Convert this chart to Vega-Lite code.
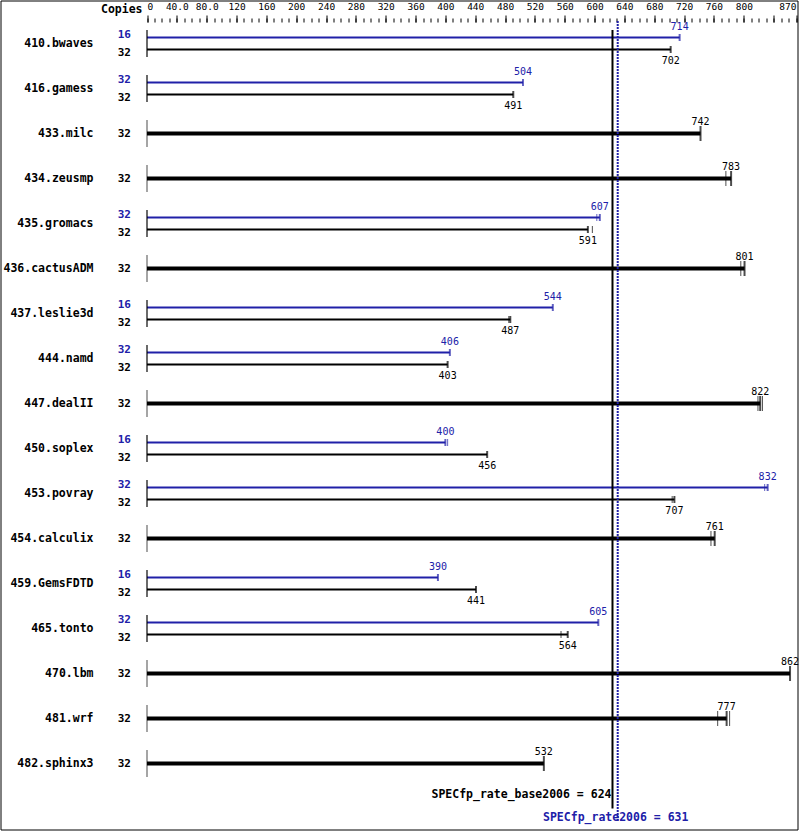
{
  "$schema": "https://vega.github.io/schema/vega-lite/v6.json",
  "width": 797,
  "height": 829,
  "autosize": {"type": "none"},
  "padding": {"left": 0.5, "top": 0.5, "right": 1.5, "bottom": 1.5},
  "background": "white",
  "config": {"view": {"stroke": "black", "strokeWidth": 1}, "font": "DejaVu Sans Mono"},
  "datasets": {
    "bars": [
      {"bench": "410.bwaves", "kind": "peak", "copies": 16, "ratio": 714},
      {"bench": "410.bwaves", "kind": "base", "copies": 32, "ratio": 702},
      {"bench": "416.gamess", "kind": "peak", "copies": 32, "ratio": 504},
      {"bench": "416.gamess", "kind": "base", "copies": 32, "ratio": 491},
      {"bench": "433.milc", "kind": "both", "copies": 32, "ratio": 742},
      {"bench": "434.zeusmp", "kind": "both", "copies": 32, "ratio": 783},
      {"bench": "435.gromacs", "kind": "peak", "copies": 32, "ratio": 607},
      {"bench": "435.gromacs", "kind": "base", "copies": 32, "ratio": 591},
      {"bench": "436.cactusADM", "kind": "both", "copies": 32, "ratio": 801},
      {"bench": "437.leslie3d", "kind": "peak", "copies": 16, "ratio": 544},
      {"bench": "437.leslie3d", "kind": "base", "copies": 32, "ratio": 487},
      {"bench": "444.namd", "kind": "peak", "copies": 32, "ratio": 406},
      {"bench": "444.namd", "kind": "base", "copies": 32, "ratio": 403},
      {"bench": "447.dealII", "kind": "both", "copies": 32, "ratio": 822},
      {"bench": "450.soplex", "kind": "peak", "copies": 16, "ratio": 400},
      {"bench": "450.soplex", "kind": "base", "copies": 32, "ratio": 456},
      {"bench": "453.povray", "kind": "peak", "copies": 32, "ratio": 832},
      {"bench": "453.povray", "kind": "base", "copies": 32, "ratio": 707},
      {"bench": "454.calculix", "kind": "both", "copies": 32, "ratio": 761},
      {"bench": "459.GemsFDTD", "kind": "peak", "copies": 16, "ratio": 390},
      {"bench": "459.GemsFDTD", "kind": "base", "copies": 32, "ratio": 441},
      {"bench": "465.tonto", "kind": "peak", "copies": 32, "ratio": 605},
      {"bench": "465.tonto", "kind": "base", "copies": 32, "ratio": 564},
      {"bench": "470.lbm", "kind": "both", "copies": 32, "ratio": 862},
      {"bench": "481.wrf", "kind": "both", "copies": 32, "ratio": 777},
      {"bench": "482.sphinx3", "kind": "both", "copies": 32, "ratio": 532}
    ],
    "runs": [
      {"bench": "434.zeusmp", "kind": "both", "ratio": 776},
      {"bench": "435.gromacs", "kind": "peak", "ratio": 603},
      {"bench": "435.gromacs", "kind": "base", "ratio": 597},
      {"bench": "436.cactusADM", "kind": "both", "ratio": 796},
      {"bench": "437.leslie3d", "kind": "base", "ratio": 485},
      {"bench": "447.dealII", "kind": "both", "ratio": 819},
      {"bench": "447.dealII", "kind": "both", "ratio": 825},
      {"bench": "450.soplex", "kind": "peak", "ratio": 403},
      {"bench": "453.povray", "kind": "peak", "ratio": 828},
      {"bench": "453.povray", "kind": "base", "ratio": 704},
      {"bench": "454.calculix", "kind": "both", "ratio": 756},
      {"bench": "465.tonto", "kind": "base", "ratio": 555},
      {"bench": "481.wrf", "kind": "both", "ratio": 765},
      {"bench": "481.wrf", "kind": "both", "ratio": 781}
    ],
    "summary": [
      {"metric": "SPECfp_rate_base2006", "kind": "base", "score": 624},
      {"metric": "SPECfp_rate2006", "kind": "peak", "score": 631}
    ]
  },
  "resolve": {"axis": {"x": "independent"}},
  "layer": [
    {
      "data": {"name": "bars"},
      "transform": [{"filter": "datum.kind != 'both'"}],
      "mark": {"type": "rule", "strokeWidth": 2},
      "encoding": {
        "x": {
          "field": "ratio",
          "type": "quantitative",
          "scale": {"domain": [0, 870], "range": [146.5, 795.5], "nice": false, "zero": true},
          "axis": {
            "orient": "top",
            "offset": -21.5,
            "domain": false,
            "grid": false,
            "values": [0,40,80,120,160,200,240,280,320,360,400,440,480,520,560,600,640,680,720,760,800,840,870],
            "tickColor": "black",
            "tickWidth": 1,
            "tickSize": 7,
            "labelExpr": "datum.value == 40 ? '40.0' : datum.value == 80 ? '80.0' : datum.value == 840 ? '' : datum.label",
            "labelFlush": true,
            "labelOverlap": false,
            "labelPadding": 4,
            "labelFont": "DejaVu Sans Mono",
            "labelFontSize": 9.5,
            "labelColor": "black",
            "title": "Copies",
            "titleX": 141.5,
            "titleY": -13,
            "titleAlign": "right",
            "titleBaseline": "middle",
            "titleAngle": 0,
            "titleFont": "DejaVu Sans Mono",
            "titleFontSize": 11.5,
            "titleFontWeight": "bold",
            "titleColor": "black"
          }
        },
        "x2": {"datum": 0},
        "y": {
          "field": "bench",
          "type": "nominal",
          "scale": {
            "domain": ["410.bwaves","416.gamess","433.milc","434.zeusmp","435.gromacs","436.cactusADM","437.leslie3d","444.namd","447.dealII","450.soplex","453.povray","454.calculix","459.GemsFDTD","465.tonto","470.lbm","481.wrf","482.sphinx3","summary"],
            "range": [20.5, 830.5],
            "paddingInner": 0,
            "paddingOuter": 0
          },
          "axis": {
            "orient": "left",
            "offset": -146.5,
            "domain": false,
            "ticks": false,
            "tickSize": 0,
            "grid": false,
            "labelExpr": "datum.value == 'summary' ? '' : datum.label",
            "labelPadding": 54,
            "labelFont": "DejaVu Sans Mono",
            "labelFontSize": 11.5,
            "labelFontWeight": "bold",
            "labelColor": "black",
            "labelBaseline": "middle",
            "title": null
          }
        },
        "yOffset": {"field": "kind", "type": "nominal", "scale": {"type": "point", "domain": ["peak", "both", "base"], "range": [16.5, 28.5], "padding": 0}},
        "color": {"field": "kind", "type": "nominal", "scale": {"domain": ["peak", "base", "both"], "range": ["#2020a8", "#000000", "#000000"]}, "legend": null}
      }
    },
    {
      "data": {"name": "bars"},
      "transform": [{"filter": "datum.kind == 'both'"}],
      "mark": {"type": "rule", "strokeWidth": 4, "color": "black"},
      "encoding": {
        "x": {
          "field": "ratio",
          "type": "quantitative",
          "axis": {
            "orient": "top",
            "offset": -21.5,
            "domain": false,
            "grid": false,
            "labels": false,
            "values": [0,10,20,30,40,50,60,70,80,90,100,110,120,130,140,150,160,170,180,190,200,210,220,230,240,250,260,270,280,290,300,310,320,330,340,350,360,370,380,390,400,410,420,430,440,450,460,470,480,490,500,510,520,530,540,550,560,570,580,590,600,610,620,630,640,650,660,670,680,690,700,710,720,730,740,750,760,770,780,790,800,810,820,830,840,850,860,870],
            "tickColor": "black",
            "tickWidth": 1,
            "tickSize": 4,
            "title": null
          }
        },
        "x2": {"datum": 0},
        "y": {"field": "bench", "type": "nominal"},
        "yOffset": {"field": "kind", "type": "nominal"}
      }
    },
    {
      "data": {"name": "bars"},
      "mark": {"type": "tick", "orient": "vertical", "size": 27, "thickness": 1, "color": "black"},
      "encoding": {
        "x": {"datum": 0, "type": "quantitative", "axis": null},
        "y": {"field": "bench", "type": "nominal"}
      }
    },
    {
      "data": {"name": "bars"},
      "transform": [{"filter": "datum.kind != 'both'"}],
      "mark": {"type": "tick", "orient": "vertical", "thickness": 2, "size": 7},
      "encoding": {
        "x": {"field": "ratio", "type": "quantitative", "axis": null},
        "y": {"field": "bench", "type": "nominal"},
        "yOffset": {"field": "kind", "type": "nominal"},
        "color": {"field": "kind", "type": "nominal", "legend": null}
      }
    },
    {
      "data": {"name": "bars"},
      "transform": [{"filter": "datum.kind == 'both'"}],
      "mark": {"type": "tick", "orient": "vertical", "thickness": 2, "size": 15, "color": "black"},
      "encoding": {
        "x": {"field": "ratio", "type": "quantitative", "axis": null},
        "y": {"field": "bench", "type": "nominal"},
        "yOffset": {"field": "kind", "type": "nominal"}
      }
    },
    {
      "data": {"name": "runs"},
      "transform": [{"filter": "datum.kind != 'both'"}],
      "mark": {"type": "tick", "orient": "vertical", "thickness": 1, "size": 7},
      "encoding": {
        "x": {"field": "ratio", "type": "quantitative", "axis": null},
        "y": {"field": "bench", "type": "nominal"},
        "yOffset": {"field": "kind", "type": "nominal"},
        "color": {"field": "kind", "type": "nominal", "legend": null}
      }
    },
    {
      "data": {"name": "runs"},
      "transform": [{"filter": "datum.kind == 'both'"}],
      "mark": {"type": "tick", "orient": "vertical", "thickness": 1, "size": 15, "color": "black"},
      "encoding": {
        "x": {"field": "ratio", "type": "quantitative", "axis": null},
        "y": {"field": "bench", "type": "nominal"},
        "yOffset": {"field": "kind", "type": "nominal"}
      }
    },
    {
      "data": {"name": "bars"},
      "transform": [{"filter": "datum.kind == 'peak'"}],
      "mark": {"type": "text", "align": "center", "baseline": "middle", "fontSize": 10, "font": "DejaVu Sans Mono", "dy": -10.5, "color": "#2020a8"},
      "encoding": {
        "x": {"field": "ratio", "type": "quantitative", "axis": null},
        "y": {"field": "bench", "type": "nominal"},
        "yOffset": {"field": "kind", "type": "nominal"},
        "text": {"field": "ratio", "type": "quantitative"}
      }
    },
    {
      "data": {"name": "bars"},
      "transform": [{"filter": "datum.kind == 'base'"}],
      "mark": {"type": "text", "align": "center", "baseline": "middle", "fontSize": 10, "font": "DejaVu Sans Mono", "dy": 11.5, "color": "black"},
      "encoding": {
        "x": {"field": "ratio", "type": "quantitative", "axis": null},
        "y": {"field": "bench", "type": "nominal"},
        "yOffset": {"field": "kind", "type": "nominal"},
        "text": {"field": "ratio", "type": "quantitative"}
      }
    },
    {
      "data": {"name": "bars"},
      "transform": [{"filter": "datum.kind == 'both'"}],
      "mark": {"type": "text", "align": "center", "baseline": "middle", "fontSize": 10, "font": "DejaVu Sans Mono", "dy": -12, "color": "black"},
      "encoding": {
        "x": {"field": "ratio", "type": "quantitative", "axis": null},
        "y": {"field": "bench", "type": "nominal"},
        "yOffset": {"field": "kind", "type": "nominal"},
        "text": {"field": "ratio", "type": "quantitative"}
      }
    },
    {
      "data": {"name": "bars"},
      "transform": [{"filter": "datum.kind == 'peak'"}],
      "mark": {"type": "text", "align": "right", "baseline": "middle", "dx": -16, "dy": -2.5, "fontSize": 11, "fontWeight": "bold", "font": "DejaVu Sans Mono", "color": "#2020a8"},
      "encoding": {
        "x": {"datum": 0, "type": "quantitative", "axis": null},
        "y": {"field": "bench", "type": "nominal"},
        "yOffset": {"field": "kind", "type": "nominal"},
        "text": {"field": "copies", "type": "quantitative"}
      }
    },
    {
      "data": {"name": "bars"},
      "transform": [{"filter": "datum.kind == 'base'"}],
      "mark": {"type": "text", "align": "right", "baseline": "middle", "dx": -16, "dy": 3.5, "fontSize": 11, "fontWeight": "bold", "font": "DejaVu Sans Mono", "color": "black"},
      "encoding": {
        "x": {"datum": 0, "type": "quantitative", "axis": null},
        "y": {"field": "bench", "type": "nominal"},
        "yOffset": {"field": "kind", "type": "nominal"},
        "text": {"field": "copies", "type": "quantitative"}
      }
    },
    {
      "data": {"name": "bars"},
      "transform": [{"filter": "datum.kind == 'both'"}],
      "mark": {"type": "text", "align": "right", "baseline": "middle", "dx": -16, "fontSize": 11, "fontWeight": "bold", "font": "DejaVu Sans Mono", "color": "black"},
      "encoding": {
        "x": {"datum": 0, "type": "quantitative", "axis": null},
        "y": {"field": "bench", "type": "nominal"},
        "yOffset": {"field": "kind", "type": "nominal"},
        "text": {"field": "copies", "type": "quantitative"}
      }
    },
    {
      "data": {"name": "summary"},
      "transform": [{"filter": "datum.kind == 'base'"}],
      "mark": {"type": "rule", "color": "black", "strokeWidth": 2},
      "encoding": {
        "x": {"field": "score", "type": "quantitative", "axis": null},
        "y": {"datum": "410.bwaves", "type": "nominal", "bandPosition": 0.2},
        "y2": {"datum": "summary", "bandPosition": 0.5}
      }
    },
    {
      "data": {"name": "summary"},
      "transform": [{"filter": "datum.kind == 'peak'"}],
      "mark": {"type": "rule", "color": "#2020a8", "strokeWidth": 2, "strokeDash": [2, 1]},
      "encoding": {
        "x": {"field": "score", "type": "quantitative", "axis": null},
        "y": {"datum": "410.bwaves", "type": "nominal", "bandPosition": 0},
        "y2": {"datum": "summary", "bandPosition": 0.8}
      }
    },
    {
      "data": {"name": "summary"},
      "transform": [{"filter": "datum.kind == 'base'"}, {"calculate": "datum.metric + ' = ' + datum.score", "as": "label"}],
      "mark": {"type": "text", "align": "right", "baseline": "middle", "dx": -1, "fontSize": 11.5, "fontWeight": "bold", "font": "DejaVu Sans Mono", "color": "black"},
      "encoding": {
        "x": {"field": "score", "type": "quantitative", "axis": null},
        "y": {"datum": "summary", "type": "nominal", "bandPosition": 0.2},
        "text": {"field": "label", "type": "nominal"}
      }
    },
    {
      "data": {"name": "summary"},
      "transform": [{"filter": "datum.kind == 'peak'"}, {"calculate": "datum.metric + ' = ' + datum.score", "as": "label"}],
      "mark": {"type": "text", "align": "center", "baseline": "middle", "dx": -2, "fontSize": 11.5, "fontWeight": "bold", "font": "DejaVu Sans Mono", "color": "#2020a8"},
      "encoding": {
        "x": {"field": "score", "type": "quantitative", "axis": null},
        "y": {"datum": "summary", "type": "nominal", "bandPosition": 0.7},
        "text": {"field": "label", "type": "nominal"}
      }
    }
  ]
}
